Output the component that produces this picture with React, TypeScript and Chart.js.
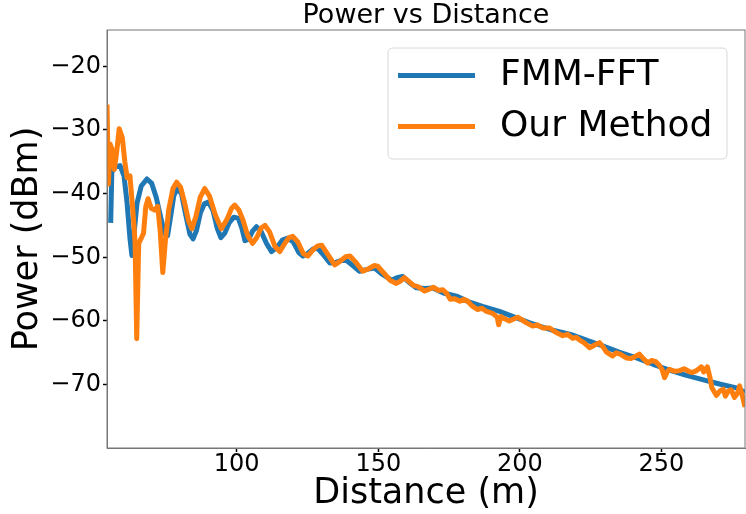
import React, { useEffect, useRef } from "react";
import { Chart, registerables } from "chart.js";

Chart.register(...registerables);

const FONT = "'DejaVu Sans', 'Liberation Sans', sans-serif";

const chartTitle = "Power vs Distance";
const xAxisTitle = "Distance (m)";
const yAxisTitle = "Power (dBm)";
const seriesNames = ["FMM-FFT", "Our Method"];
const seriesColors = ["#1f77b4", "#ff7f0e"];

const xTicks = [100, 150, 200, 250];
const yTicks = [-70, -60, -50, -40, -30, -20];
const xRange = [54.2, 279.5];
const yRange = [-79.95, -14.3];

const fmmDistance = [
  55.5, 55.9, 57.2, 58.8, 60.2, 61.3, 62.3, 63.0, 63.8, 64.8, 66.3, 68.3, 70.0, 71.6, 73.2, 74.6, 75.6, 76.6, 77.8, 79.0,
  80.5, 82.0, 83.5, 84.6, 85.8, 87.2, 88.6, 90.0, 91.6, 93.1, 94.4, 95.8, 97.3, 99.0, 100.6, 101.8, 102.9, 104.2, 105.6,
  107.0, 108.6, 110.5, 112.3, 114.1, 116.1, 118.0, 120.0, 122.0, 123.4, 125.1, 127.0, 128.6, 130.6, 132.9, 135.0, 137.0,
  138.8, 141.0, 143.4, 146.0, 148.7, 151.5, 154.7, 156.6, 158.6, 161.0, 163.5, 166.5, 169.2, 173.0, 177.6, 182.0, 186.8,
  192.8, 198.8, 203.0, 206.9, 212.0, 218.6, 224.0, 229.2, 235.0, 241.2, 247.0, 252.8, 258.5, 264.5, 270.5, 276.5, 279.5,
];
const fmmPower = [
  -44.6, -36.6, -35.8, -35.6, -37.2, -41.5, -47.0, -49.7, -46.0, -41.5, -38.8, -37.7, -38.4, -40.6, -43.8, -46.3, -46.6,
  -43.8, -40.3, -39.2, -40.0, -43.3, -46.4, -47.1, -45.8, -43.0, -41.6, -41.3, -42.6, -45.4, -46.9, -46.2, -44.6, -43.7,
  -43.9, -45.4, -47.4, -47.2, -45.9, -45.2, -45.9, -47.8, -49.1, -48.5, -47.3, -47.0, -47.6, -49.3, -49.8, -49.4, -48.7,
  -48.6, -49.6, -50.9, -50.8, -50.5, -50.5, -51.3, -52.2, -51.9, -51.7, -52.7, -53.6, -53.2, -53.0, -54.0, -54.8, -54.9,
  -54.8, -55.6, -56.1, -57.0, -57.7, -58.5, -59.5, -60.2, -60.8, -61.5, -62.2, -63.1, -63.9, -64.9, -65.8, -66.8, -67.7,
  -68.5, -69.2, -69.9, -70.5, -71.2,
];

const oursDistance = [
  54.2, 54.7, 55.3, 56.1, 56.8, 57.6, 58.5, 59.6, 60.5, 61.3, 62.3, 63.3, 64.1, 64.7, 65.4, 66.3, 67.1, 67.9, 68.7, 69.8,
  71.0, 72.1, 73.0, 73.9, 74.8, 76.0, 77.5, 78.8, 80.2, 81.7, 83.0, 84.2, 85.6, 87.1, 88.7, 90.4, 92.5, 94.6, 96.6, 98.2,
  99.3, 100.8, 102.1, 103.9, 105.6, 107.1, 108.6, 110.0, 111.6, 113.5, 115.2, 117.0, 118.5, 119.8, 121.6, 123.5, 125.1,
  127.0, 128.6, 130.0, 132.1, 134.6, 136.6, 138.5, 140.0, 142.1, 144.5, 146.6, 148.5, 149.8, 152.0, 154.2, 156.2, 157.6,
  159.2, 160.6, 162.4, 164.0, 166.4, 168.0, 169.4, 171.2, 172.8, 174.2, 175.4, 177.0, 178.8, 180.2, 181.6, 183.0, 185.0,
  186.6, 188.2, 190.4, 192.0, 192.5, 193.3, 194.8, 196.3, 197.8, 199.2, 200.6, 202.3, 204.5, 206.2, 208.0, 210.5, 211.8,
  213.2, 215.1, 216.8, 218.6, 220.0, 221.1, 222.6, 224.6, 226.3, 228.1, 229.4, 230.6, 232.7, 234.0, 235.4, 237.6, 239.2,
  240.6, 242.2, 243.6, 245.1, 246.6, 248.0, 249.3, 250.2, 251.1, 252.0, 252.8, 254.6, 256.4, 258.0, 259.6, 260.9, 262.4,
  264.1, 264.9, 266.2, 267.1, 267.8, 269.4, 270.6, 271.8, 272.6, 273.6, 274.6, 275.8, 276.8, 277.6, 278.6, 279.5,
];
const oursPower = [
  -26.0, -38.5, -32.2, -33.2, -36.2, -33.5, -29.8, -31.2, -35.0, -37.5, -37.2, -42.5, -47.5, -62.8, -47.8, -47.0, -46.2,
  -42.0, -40.8, -42.3, -42.6, -42.0, -46.0, -52.4, -47.5, -42.5, -39.2, -38.2, -39.0, -41.6, -44.3, -45.5, -43.6, -40.6,
  -39.2, -40.4, -43.4, -45.5, -44.0, -42.3, -41.8, -42.6, -44.0, -46.6, -47.8, -46.9, -45.4, -45.0, -46.0, -48.3, -49.1,
  -47.8, -46.9, -46.7, -47.6, -49.4, -49.8, -48.8, -48.2, -48.1, -49.5, -51.2, -50.6, -49.9, -49.8, -50.8, -52.2, -51.8,
  -51.3, -51.4, -52.5, -53.6, -54.1, -53.8, -53.2, -53.7, -54.4, -54.6, -55.3, -55.0, -54.7, -55.2, -55.1, -55.7, -56.6,
  -56.5, -56.9, -56.6, -56.9, -57.6, -58.2, -58.0, -58.5, -58.8, -59.4, -60.6, -59.3, -59.7, -60.0, -59.7, -59.4, -59.8,
  -60.3, -60.8, -60.6, -61.1, -61.1, -61.5, -61.9, -62.3, -62.1, -62.7, -62.6, -63.0, -63.4, -64.2, -63.8, -63.4, -64.1,
  -64.9, -65.5, -65.0, -65.2, -65.8, -65.9, -65.6, -65.2, -65.9, -66.6, -66.2, -66.4, -67.0, -67.6, -68.9, -68.0, -67.6,
  -67.9, -67.8, -67.5, -67.9, -68.1, -67.8, -67.2, -68.0, -67.2, -68.8, -70.5, -71.7, -71.0, -70.7, -71.8, -71.0, -70.8,
  -72.0, -71.4, -70.2, -71.8, -73.5,
];

const toPoints = (xs: number[], ys: number[]) => xs.map((x, i) => ({ x, y: ys[i] }));
const fmtMinus = (v: number | string) => String(v).replace("-", "\u2212");

const framePlugin = {
  id: "frame",
  afterDatasetsDraw(chart: any) {
    const { ctx, chartArea: a } = chart;
    ctx.save();
    ctx.strokeStyle = "#777";
    ctx.lineWidth = 1;
    ctx.strokeRect(a.left, a.top, a.right - a.left, a.bottom - a.top);
    ctx.restore();
  },
};

const legendPlugin = {
  id: "mplLegend",
  afterDraw(chart: any) {
    const { ctx } = chart;
    const bx = 388, by = 48, bw = 339, bh = 111, r = 5;
    ctx.save();
    ctx.beginPath();
    ctx.moveTo(bx + r, by);
    ctx.lineTo(bx + bw - r, by);
    ctx.quadraticCurveTo(bx + bw, by, bx + bw, by + r);
    ctx.lineTo(bx + bw, by + bh - r);
    ctx.quadraticCurveTo(bx + bw, by + bh, bx + bw - r, by + bh);
    ctx.lineTo(bx + r, by + bh);
    ctx.quadraticCurveTo(bx, by + bh, bx, by + bh - r);
    ctx.lineTo(bx, by + r);
    ctx.quadraticCurveTo(bx, by, bx + r, by);
    ctx.closePath();
    ctx.fillStyle = "rgba(255,255,255,0.85)";
    ctx.fill();
    ctx.strokeStyle = "#d8d8d8";
    ctx.lineWidth = 1;
    ctx.stroke();
    const rows = [75.5, 126.5];
    seriesNames.forEach((name, i) => {
      const y = rows[i];
      ctx.beginPath();
      ctx.moveTo(398, y);
      ctx.lineTo(475, y);
      ctx.strokeStyle = seriesColors[i];
      ctx.lineWidth = 5;
      ctx.stroke();
      ctx.fillStyle = "#000";
      ctx.font = `36px ${FONT}`;
      ctx.textAlign = "left";
      ctx.textBaseline = "middle";
      ctx.fillText(name, 500, y + 0.5);
    });
    ctx.restore();
  },
};

export default function App() {
  const ref = useRef<HTMLCanvasElement | null>(null);

  useEffect(() => {
    if (!ref.current) return;
    const chart = new Chart(ref.current, {
      type: "line",
      data: {
        datasets: [
          {
            label: seriesNames[0],
            data: toPoints(fmmDistance, fmmPower),
            borderColor: seriesColors[0],
            backgroundColor: seriesColors[0],
            borderWidth: 5,
            pointRadius: 0,
            tension: 0,
            borderJoinStyle: "round",
            clip: 0,
            order: 1,
          },
          {
            label: seriesNames[1],
            data: toPoints(oursDistance, oursPower),
            borderColor: seriesColors[1],
            backgroundColor: seriesColors[1],
            borderWidth: 5,
            pointRadius: 0,
            tension: 0,
            borderJoinStyle: "round",
            clip: 0,
            order: 0,
          },
        ],
      },
      options: {
        responsive: false,
        animation: false,
        devicePixelRatio: 1,
        layout: { padding: { left: 0, right: 1, top: 0, bottom: 0 } },
        plugins: {
          legend: { display: false },
          tooltip: { enabled: false },
          title: {
            display: true,
            fullSize: false,
            text: chartTitle,
            color: "#000",
            font: { family: FONT, size: 27, weight: "normal", lineHeight: "28px" },
            padding: { top: 2, bottom: 0 },
          },
        },
        scales: {
          x: {
            type: "linear",
            min: xRange[0],
            max: xRange[1],
            afterFit: (s: any) => {
              s.height = 66;
            },
            afterBuildTicks: (s: any) => {
              s.ticks = xTicks.map((v) => ({ value: v }));
            },
            border: { display: true, color: "#777", width: 1 },
            grid: { display: true, drawOnChartArea: false, drawTicks: true, tickLength: 4, tickColor: "#000", tickWidth: 1.5 },
            ticks: {
              color: "#000",
              padding: 1,
              maxRotation: 0,
              autoSkip: false,
              font: { family: FONT, size: 24, lineHeight: 1 },
              callback: (v: any) => fmtMinus(v),
            },
            title: {
              display: true,
              text: xAxisTitle,
              color: "#000",
              font: { family: FONT, size: 35, lineHeight: 1 },
              padding: { top: 0, bottom: 2.1 },
            },
          },
          y: {
            type: "linear",
            min: yRange[0],
            max: yRange[1],
            afterFit: (s: any) => {
              s.width = 107;
            },
            afterBuildTicks: (s: any) => {
              s.ticks = yTicks.map((v) => ({ value: v }));
            },
            border: { display: true, color: "#777", width: 1 },
            grid: { display: true, drawOnChartArea: false, drawTicks: true, tickLength: 4, tickColor: "#000", tickWidth: 1.5 },
            ticks: {
              color: "#000",
              padding: 2,
              autoSkip: false,
              font: { family: FONT, size: 24, lineHeight: 1 },
              callback: (v: any) => fmtMinus(v),
            },
            title: {
              display: true,
              text: yAxisTitle,
              color: "#000",
              font: { family: FONT, size: 35, lineHeight: 1 },
              padding: { top: 10.4, bottom: 0 },
            },
          },
        },
      },
      plugins: [framePlugin, legendPlugin],
    });
    return () => chart.destroy();
  }, []);

  return (
    <div style={{ position: "fixed", left: 0, top: 0, width: 746, height: 514, overflow: "hidden", background: "#fff" }}>
      <canvas ref={ref} width={746} height={514} style={{ display: "block" }} />
    </div>
  );
}
